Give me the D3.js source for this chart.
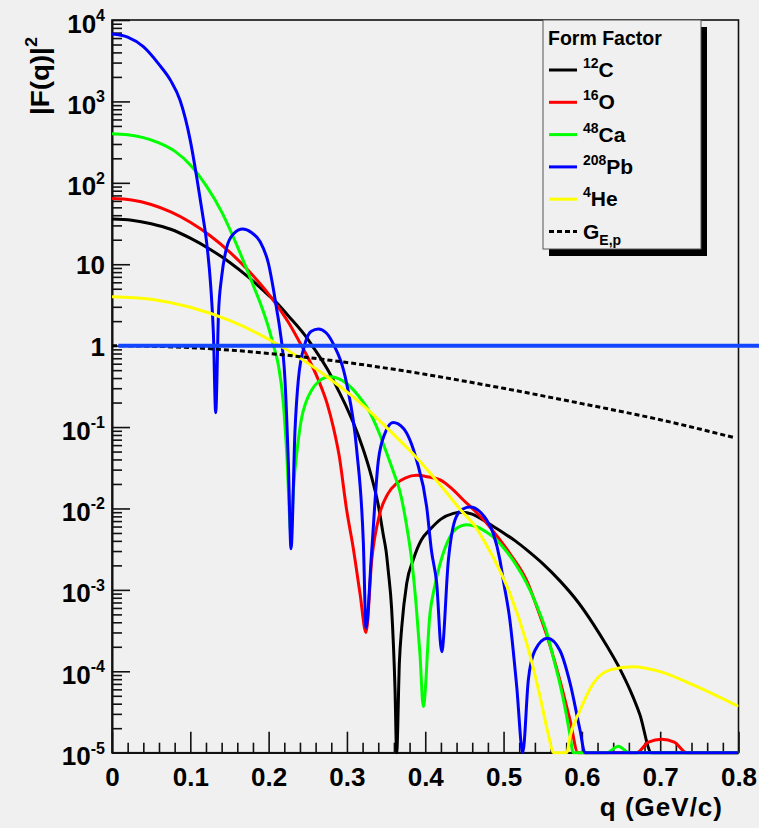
<!DOCTYPE html>
<html>
<head>
<meta charset="utf-8">
<script src="https://cdn.jsdelivr.net/npm/d3@7"></script>
<style>
    html, body { margin: 0; padding: 0; background: #f0f0f0; }
    svg { display: block; font-family: "Liberation Sans", Arial, Helvetica, sans-serif; font-weight: bold; }
</style>
</head>
<body>
<svg id="chart"></svg>
<script>
// q (GeV/c) tick marks and labels
const qTicks = [0, 0.1, 0.2, 0.3, 0.4, 0.5, 0.6, 0.7, 0.8];
const qTickLabels = ["0", "0.1", "0.2", "0.3", "0.4", "0.5", "0.6", "0.7", "0.8"];
// |F(q)|^2 decades, 10^-5 .. 10^4
const decades = [-5, -4, -3, -2, -1, 0, 1, 2, 3, 4];

// [q, |F(q)|^2]; values below 1e-5 sit on the axis
const c12 = [
    [0, 36], [0.025, 34.8], [0.05, 31.5], [0.075, 26.9], [0.1, 20.9], [0.125, 15.3],
    [0.15, 10.6], [0.175, 6.85], [0.2, 4.15], [0.206, 3.7], [0.225, 2.33], [0.25, 1.2],
    [0.255, 1.02], [0.2784, 0.45], [0.29, 0.27], [0.3, 0.171], [0.308, 0.114], [0.32, 0.056],
    [0.33, 0.0274], [0.34, 0.011], [0.3465, 0.0047], [0.35, 0.003], [0.3528, 0.0017],
    [0.357, 0.0006], [0.3614, 0.00006], [0.3635, 1e-6], [0.367, 0.00013], [0.37, 0.00035],
    [0.3763, 0.0012], [0.385, 0.0024], [0.395, 0.0041], [0.406, 0.0055], [0.42, 0.0074],
    [0.436, 0.0087], [0.447, 0.009], [0.46, 0.0085], [0.47, 0.0076], [0.487, 0.006],
    [0.5, 0.005], [0.515, 0.004], [0.5296, 0.0031], [0.55, 0.0021], [0.572, 0.00129],
    [0.595, 0.00071], [0.6146, 0.00038], [0.632, 0.000204], [0.649, 0.000105],
    [0.662, 0.0000575], [0.674, 0.0000295], [0.689, 0.00001], [0.7, 3e-6], [0.8, 1e-6]
];
const o16 = [
    [0, 64], [0.025, 61.4], [0.05, 54.1], [0.075, 43.9], [0.1, 32.8], [0.125, 22.5],
    [0.15, 14.2], [0.175, 8.2], [0.2, 4.3], [0.206, 3.6], [0.225, 1.95], [0.242, 1.0],
    [0.25, 0.72], [0.2635, 0.38], [0.275, 0.19], [0.2826, 0.1], [0.29, 0.045],
    [0.2997, 0.0095], [0.308, 0.0033], [0.3167, 0.0009], [0.3244, 0.0003], [0.3316, 0.0023],
    [0.342, 0.0087], [0.352, 0.015], [0.3636, 0.0204], [0.375, 0.0238], [0.389, 0.0255],
    [0.403, 0.0245], [0.419, 0.0224], [0.434, 0.0175], [0.4486, 0.0127], [0.4635, 0.0093],
    [0.4785, 0.0066], [0.493, 0.0044], [0.508, 0.0028], [0.5296, 0.0013], [0.543, 0.0006],
    [0.555, 0.00028], [0.565, 0.000135], [0.575, 0.00006], [0.585, 0.000025], [0.595, 9e-6],
    [0.602, 4e-6], [0.625, 1e-6], [0.66, 5e-6], [0.67, 0.00001], [0.685, 0.0000135],
    [0.702, 0.0000146], [0.718, 0.0000135], [0.734, 0.00001], [0.75, 5e-6], [0.8, 1e-6]
];
const ca48 = [
    [0, 400], [0.02, 389], [0.04, 359], [0.06, 309], [0.08, 245], [0.1, 166], [0.12, 93],
    [0.14, 44], [0.16, 16.6], [0.18, 5.6], [0.19, 3.2], [0.2, 1.66], [0.2063, 1.0],
    [0.2124, 0.58], [0.2187, 0.2], [0.223, 0.05], [0.2286, 0.005], [0.2316, 0.017],
    [0.2379, 0.069], [0.2422, 0.13], [0.2475, 0.2], [0.255, 0.285], [0.2635, 0.36],
    [0.272, 0.405], [0.2784, 0.416], [0.29, 0.39], [0.3, 0.34], [0.315, 0.24], [0.3295, 0.15],
    [0.34, 0.09], [0.35, 0.05], [0.36, 0.027], [0.3678, 0.016], [0.375, 0.0072],
    [0.3827, 0.0023], [0.3884, 0.00065], [0.3933, 0.00016], [0.3975, 0.000037],
    [0.406, 0.00051], [0.412, 0.0011], [0.419, 0.0021], [0.4316, 0.0045], [0.44, 0.0057],
    [0.453, 0.0063], [0.465, 0.006], [0.4785, 0.0051], [0.49, 0.0042], [0.5, 0.0033],
    [0.515, 0.0021], [0.5296, 0.0012], [0.543, 0.00062], [0.555, 0.0003], [0.565, 0.00013],
    [0.572, 0.00007], [0.58, 0.00003], [0.585, 0.000016], [0.589, 0.00001], [0.595, 1e-6],
    [0.62, 1e-6], [0.632, 0.00001], [0.6466, 0.000012], [0.66, 0.00001], [0.67, 1e-6],
    [0.8, 1e-6]
];
const pb208 = [
    [0, 6724], [0.02, 6150], [0.04, 4700], [0.06, 2850], [0.075, 1800], [0.0868, 1040],
    [0.1, 330], [0.108, 120], [0.115, 45], [0.121, 18], [0.126, 5.5], [0.1295, 1.4],
    [0.1324, 0.15], [0.136, 2.5], [0.14, 7], [0.1464, 16], [0.155, 23.5], [0.167, 27],
    [0.178, 24.5], [0.189, 19], [0.2, 10], [0.206, 5], [0.2103, 2.8], [0.2145, 1.55],
    [0.2209, 0.378], [0.2252, 0.036], [0.2286, 0.0032], [0.2337, 0.092], [0.2379, 0.378],
    [0.2464, 1.05], [0.2545, 1.5], [0.2635, 1.6], [0.273, 1.45], [0.2826, 1.05],
    [0.2997, 0.34], [0.3125, 0.052], [0.321, 0.0037], [0.3244, 0.00034], [0.3316, 0.003],
    [0.34, 0.038], [0.3486, 0.084], [0.359, 0.114], [0.372, 0.097], [0.389, 0.039],
    [0.4018, 0.0105], [0.408, 0.003], [0.4146, 0.0012], [0.421, 0.000174], [0.4295, 0.0023],
    [0.438, 0.0072], [0.447, 0.0097], [0.457, 0.0104], [0.4785, 0.0072], [0.487, 0.0049],
    [0.4955, 0.0023], [0.4997, 0.0013], [0.508, 0.00043], [0.5168, 0.000065], [0.5245, 1e-6],
    [0.5316, 0.000078], [0.54, 0.00018], [0.556, 0.000254], [0.572, 0.00018], [0.585, 0.000071],
    [0.5976, 0.000019], [0.604, 1e-6], [0.8, 1e-6]
];
const he4 = [
    [0, 4], [0.05, 3.71], [0.1, 2.96], [0.15, 2.04], [0.2, 1.2], [0.25, 0.61],
    [0.2784, 0.39], [0.3, 0.27], [0.3295, 0.155], [0.35, 0.1], [0.389, 0.042], [0.42, 0.019],
    [0.4444, 0.0098], [0.465, 0.0058], [0.4785, 0.0035], [0.487, 0.0025], [0.508, 0.00091],
    [0.5296, 0.00022], [0.5466, 0.000049], [0.557, 0.000017], [0.564, 0.00001], [0.572, 1e-6],
    [0.5806, 0.00001], [0.585, 0.000016], [0.5976, 0.000033], [0.6146, 0.000071],
    [0.636, 0.000104], [0.6657, 0.000114], [0.7, 0.000099], [0.742, 0.000068], [0.8, 0.000037]
];
const gep = [
    [0, 1], [0.1, 0.946], [0.2, 0.803], [0.3, 0.621], [0.4, 0.444], [0.5, 0.299],
    [0.6, 0.194], [0.7, 0.123], [0.795, 0.074]
];
const unityLine = [[0.008, 1], [0.84, 1]];

const width = 759, height = 828;
const plotLeft = 112, plotRight = 738.5, plotTop = 20, plotBottom = 752.7;

const svg = d3.select("#chart")
    .attr("width", width)
    .attr("height", height)
    .attr("viewBox", [0, 0, width, height]);

svg.append("rect")
    .attr("width", width)
    .attr("height", height)
    .attr("fill", "#f0f0f0");

const x = d3.scaleLinear().domain([0, 0.8]).range([plotLeft, plotRight]);
const y = d3.scaleLog().domain([1e-5, 1e4]).range([plotBottom, plotTop]).clamp(true);

// axes, ROOT style: ticks pointing into the frame
const xAxis = svg.append("g")
    .attr("transform", `translate(0,${plotBottom})`)
    .call(d3.axisBottom(x).tickValues(qTicks).tickSize(-21).tickSizeOuter(0)
        .tickPadding(15).tickFormat((d, i) => qTickLabels[i]));
svg.append("g")
    .attr("transform", `translate(0,${plotBottom})`)
    .call(d3.axisBottom(x).tickValues(x.ticks(40).filter(d => Math.round(d * 1000) % 100 != 0))
        .tickSize(-10).tickSizeOuter(0).tickFormat(""));

const minor = [];
decades.slice(0, -1).forEach((k) => {
    for (let m = 2; m <= 9; ++m) minor.push(m * Math.pow(10, k));
});
svg.append("g")
    .attr("transform", `translate(${plotLeft},0)`)
    .call(d3.axisLeft(y).tickValues(decades.map(k => Math.pow(10, k)))
        .tickSize(-18).tickSizeOuter(0).tickFormat(""));
svg.append("g")
    .attr("transform", `translate(${plotLeft},0)`)
    .call(d3.axisLeft(y).tickValues(minor).tickSize(-10).tickSizeOuter(0).tickFormat(""));

svg.selectAll(".tick line, .domain")
    .attr("stroke", "#111")
    .attr("stroke-width", 1.6);
xAxis.attr("font-family", null).attr("font-size", 26)
    .selectAll("text").attr("fill", "#000").attr("font-weight", "bold");

// y tick labels 10^k
decades.forEach((k) => {
    const t = svg.append("text")
        .attr("x", 105)
        .attr("y", y(Math.pow(10, k)) + (k == 0 || k == 1 ? 10 : 12.5))
        .attr("text-anchor", "end")
        .attr("font-size", 26);
    if (k == 0) t.text("1");
    else if (k == 1) t.text("10");
    else {
        t.append("tspan").text("10");
        t.append("tspan").attr("font-size", 16).attr("dy", -11.5).text(k);
    }
});

// frame
svg.append("rect")
    .attr("x", plotLeft)
    .attr("y", plotTop)
    .attr("width", plotRight - plotLeft)
    .attr("height", plotBottom - plotTop)
    .attr("fill", "none")
    .attr("stroke", "#111")
    .attr("stroke-width", 1.6);

svg.append("clipPath").attr("id", "plot-clip")
    .append("rect")
    .attr("x", plotLeft).attr("y", plotTop - 2)
    .attr("width", plotRight - plotLeft).attr("height", plotBottom - plotTop + 4);

const line = d3.line()
    .x(d => x(d[0]))
    .y(d => y(d[1]))
    .curve(d3.curveMonotoneX);

const series = [
    { data: c12, color: "#000000", sup: "12", name: "C" },
    { data: o16, color: "#ff0000", sup: "16", name: "O" },
    { data: ca48, color: "#00ff00", sup: "48", name: "Ca" },
    { data: pb208, color: "#0000ff", sup: "208", name: "Pb" },
    { data: he4, color: "#ffff00", sup: "4", name: "He" },
    { data: gep, color: "#000000", name: "G", sub: "E,p", dash: "5,3" },
];

const plot = svg.append("g").attr("clip-path", "url(#plot-clip)");
plot.selectAll("path")
    .data(series)
    .join("path")
    .attr("fill", "none")
    .attr("stroke", d => d.color)
    .attr("stroke-width", 3)
    .attr("stroke-dasharray", d => d.dash || null)
    .attr("d", d => line(d.data));

// |F|^2 = 1 reference line, runs past the frame
svg.append("path")
    .attr("fill", "none")
    .attr("stroke", "#1446ff")
    .attr("stroke-width", 4)
    .attr("d", d3.line().x(d => x(d[0])).y(d => y(d[1]))(unityLine));

// axis titles
svg.append("text")
    .attr("x", 723)
    .attr("y", 816)
    .attr("text-anchor", "end")
    .attr("font-size", 26)
    .attr("letter-spacing", 1)
    .text("q (GeV/c)");

const yTitle = svg.append("text")
    .attr("transform", "translate(49,115) rotate(-90)")
    .attr("font-size", 26)
    .attr("textLength", 78)
    .attr("lengthAdjust", "spacingAndGlyphs");
yTitle.append("tspan").text("|F(q)|");
yTitle.append("tspan").attr("font-size", 17).attr("dy", -12).text("2");

// legend
const lg = svg.append("g").attr("transform", "translate(543,20)");
const lgW = 158, lgH = 229;
lg.append("rect")
    .attr("x", 6).attr("y", 7)
    .attr("width", lgW).attr("height", lgH)
    .attr("fill", "#000");
lg.append("rect")
    .attr("width", lgW).attr("height", lgH)
    .attr("fill", "#f0f0f0")
    .attr("stroke", "#555")
    .attr("stroke-width", 1);
lg.append("text")
    .attr("x", 5).attr("y", 25)
    .attr("font-size", 19.5)
    .text("Form Factor");

const entry = lg.selectAll("g.entry")
    .data(series)
    .join("g")
    .attr("class", "entry")
    .attr("transform", (d, i) => `translate(0,${50 + i * 32.3})`);
entry.append("line")
    .attr("x1", 6).attr("x2", 34)
    .attr("stroke", d => d.color)
    .attr("stroke-width", 3)
    .attr("stroke-dasharray", d => d.dash || null);
entry.append("text")
    .attr("x", 40)
    .attr("y", 7)
    .attr("font-size", 21)
    .each(function (d) {
        const t = d3.select(this);
        if (d.sup) {
            t.append("tspan").attr("font-size", 14).attr("dy", -9).text(d.sup);
            t.append("tspan").attr("dy", 9).text(d.name);
        } else {
            t.append("tspan").text(d.name);
            t.append("tspan").attr("font-size", 14).attr("dy", 6).text(d.sub);
        }
    });
</script>
</body>
</html>
